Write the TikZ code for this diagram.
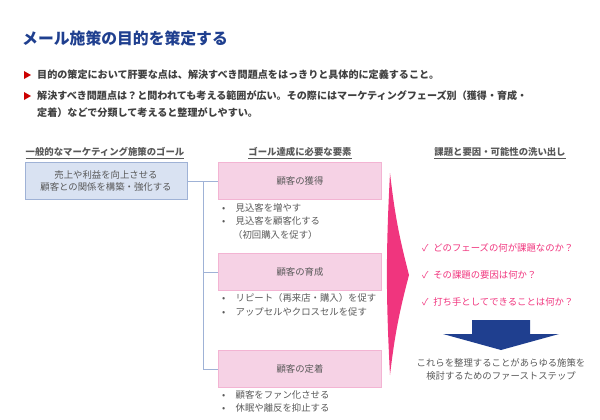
\documentclass[tikz,border=0pt]{standalone}
\usepackage{fontspec}
\setmainfont{Noto Sans CJK JP}
\usetikzlibrary{positioning}
\usetikzlibrary{calc}
\definecolor{navy}{HTML}{1F3F8F}
\definecolor{txtgray}{HTML}{595959}
\definecolor{hotpink}{HTML}{F0357E}
\definecolor{goalfill}{HTML}{D9E2F2}
\definecolor{goalline}{HTML}{9FB2D6}
\definecolor{phasefill}{HTML}{F6D2E5}
\definecolor{phaseline}{HTML}{F3B4D3}
\tikzset{goalbox/.style={draw=goalline, fill=goalfill, line width=0.6pt, minimum width=4.86cm, minimum height=1.11cm, align=center, text=txtgray, font=\fontsize{8}{11}\selectfont}}
\tikzset{phasebox/.style={draw=phaseline, fill=phasefill, line width=0.6pt, minimum width=4.89cm, minimum height=1.11cm, text=txtgray, font=\fontsize{8}{10}\selectfont}}
\tikzset{item/.style={anchor=west, inner sep=0pt, text=txtgray, font=\fontsize{8}{10}\selectfont}}
\tikzset{colhead/.style={inner sep=0pt, text=txtgray, font=\fontsize{8}{10}\selectfont\bfseries}}
\tikzset{check/.style={anchor=west, inner sep=0pt, text=hotpink, font=\fontsize{8}{10}\selectfont}}
\begin{document}
\begin{tikzpicture}[x=0.03cm, y=-0.03cm]
\useasboundingbox (0,0) rectangle (600,419);

\node[anchor=west, inner sep=0pt, text=navy, font=\fontsize{13.5}{15}\selectfont\bfseries] (title) at (22,38) {メール施策の目的を策定する};

\fill[red!80!black] (24,71) -- (31,75) -- (24,79) -- cycle;
\fill[red!80!black] (24,92) -- (31,96) -- (24,100) -- cycle;
\node[item, font=\fontsize{8.6}{10}\selectfont\bfseries, text=black!75] (p1) at (37,75) {目的の策定において肝要な点は、解決すべき問題点をはっきりと具体的に定義すること。};
\node[item, font=\fontsize{8.6}{10}\selectfont\bfseries, text=black!75] (p2) at (37,96) {解決すべき問題点は？と問われても考える範囲が広い。その際にはマーケティングフェーズ別（獲得・育成・};
\node[item, font=\fontsize{8.6}{10}\selectfont\bfseries, text=black!75] (p3) at (37,113) {定着）などで分類して考えると整理がしやすい。};

\node[colhead] (h1) at (105,153) {\underline{一般的なマーケティング施策のゴール}};
\node[colhead] (h2) at (300,153) {\underline{ゴール達成に必要な要素}};
\node[colhead] (h3) at (500,153) {\underline{課題と要因・可能性の洗い出し}};

\node[goalbox] (goal) at (106,181) {売上や利益を向上させる\\顧客との関係を構築・強化する};
\node[phasebox] (get) at (300,181) {顧客の獲得};
\node[phasebox] (grow) at (300,272) {顧客の育成};
\node[phasebox] (keep) at (300,369) {顧客の定着};

\coordinate (j) at (203,181);
\draw[goalline, line width=0.6pt] (goal.east) -- (get.west);
\draw[goalline, line width=0.6pt] (j) |- (grow.west);
\draw[goalline, line width=0.6pt] (j) |- (keep.west);

\node[item] (g1) at (222,208) {•\hspace{1.1em}見込客を増やす};
\node[item] (g2) at (222,221) {•\hspace{1.1em}見込客を顧客化する};
\node[item] (g3) at (233,235) {（初回購入を促す）};
\node[item] (r1) at (222,298) {•\hspace{1.1em}リピート（再来店・購入）を促す};
\node[item] (r2) at (222,312) {•\hspace{1.1em}アップセルやクロスセルを促す};
\node[item] (k1) at (222,395) {•\hspace{1.1em}顧客をファン化させる};
\node[item] (k2) at (222,408) {•\hspace{1.1em}休眠や離反を抑止する};

\fill[hotpink] (390,173) to[bend right=4] (409,275) to[bend right=4] (390,375) to[bend left=3] cycle;

\node[check] (c1) at (422,248) {✓\hspace{0.5em}どのフェーズの何が課題なのか？};
\node[check] (c2) at (422,275) {✓\hspace{0.5em}その課題の要因は何か？};
\node[check] (c3) at (422,302) {✓\hspace{0.5em}打ち手としてできることは何か？};

\fill[navy] (472,320) -- (530,320) -- (530,334) -- (559,334) -- (501,350) -- (443,334) -- (472,334) -- cycle;

\node[align=center, text=txtgray, font=\fontsize{8}{11}\selectfont] (last) at (501,369) {これらを整理することがあらゆる施策を\\検討するためのファーストステップ};
\end{tikzpicture}
\end{document}
